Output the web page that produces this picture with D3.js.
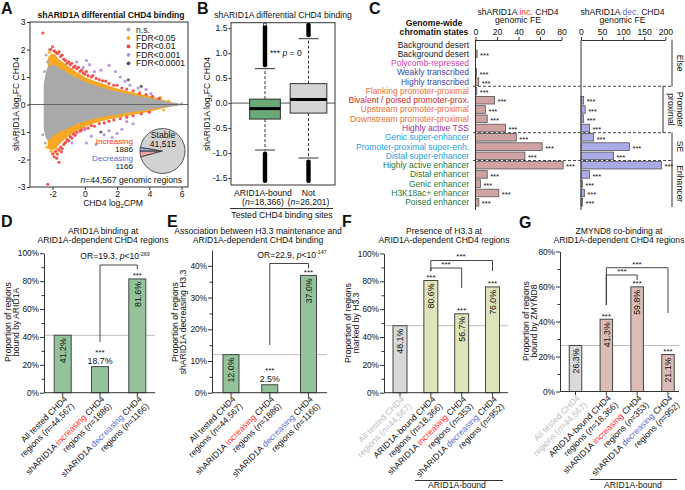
<!DOCTYPE html>
<html><head><meta charset="utf-8">
<script src="https://cdn.jsdelivr.net/npm/d3@7/dist/d3.min.js"></script>
<style>
html,body{margin:0;padding:0;background:#fff;overflow:hidden}
svg{display:block;font-family:"Liberation Sans",Arial,Helvetica,sans-serif;}
</style></head>
<body><svg id="fig" width="685" height="490"></svg>
<script>
// ================= DATA =================
// Panel A: MA plot (envelopes of the dense point clouds + individual outer points)
const maEnvX     = [-2.55,-2.3,-2.0,-1.5,-1.0,-0.5,0.0,0.5,1.0,2.0,3.0,4.0,4.5,5.0,5.5,5.9];
const nsUpper    = [0.7,1.35,1.45,1.3,1.12,0.97,0.83,0.72,0.63,0.47,0.35,0.24,0.18,0.12,0.07,0.03];
const nsLower    = [-0.9,-1.3,-1.15,-0.98,-0.85,-0.72,-0.62,-0.53,-0.46,-0.36,-0.27,-0.19,-0.14,-0.1,-0.06,-0.03];
const fdrEnvX    = [-2.3,-2.0,-1.5,-1.0,-0.5,0.0,0.5,1.0,2.0,3.0,4.0,4.5,5.0,5.4];
const fdr05Upper = [1.7,1.85,1.6,1.38,1.18,1.0,0.88,0.78,0.58,0.44,0.31,0.23,0.15,0.09];
const fdr05Lower = [-1.6,-1.65,-1.4,-1.15,-0.97,-0.82,-0.7,-0.61,-0.48,-0.37,-0.26,-0.19,-0.12,-0.07];
const nsPoints   = [[-2.4,1.8],[-2.3,1.55],[-2.5,1.2],[-2.2,2.0],[-2.6,-1.1],[-2.45,-1.4],[6.0,0.02],[5.7,0.0]];
const fdr05Points= [[-2.2,1.9],[-1.9,-1.75],[-2.1,-1.7],[-1.75,-1.6],[4.7,0.25],[4.9,-0.2],[-2.35,-1.55],[5.2,0.12]];
const fdr01Points= [[-2.6,2.6],[-2.1,2.0],[-2.0,2.1],[-1.9,1.95],[-1.8,1.9],[-1.7,1.85],[-1.6,1.92],[-1.5,1.75],[-1.4,1.8],
  [-1.3,1.65],[-1.2,1.6],[-1.1,1.5],[-1.0,1.55],[-0.9,1.45],[-0.8,1.5],[-0.7,1.35],[-0.6,1.4],[-0.5,1.3],[-0.4,1.35],
  [-0.3,1.2],[-0.2,1.25],[-0.1,1.15],[0.0,1.1],[0.1,1.2],[0.2,1.05],[0.4,1.0],[0.5,1.05],[0.7,0.95],[0.9,0.9],[1.1,0.86],
  [1.3,0.85],[1.5,0.76],[1.8,0.7],[2.0,0.7],[2.3,0.6],[2.6,0.56],[3.0,0.5],[3.4,0.42],[3.8,0.36],[4.2,0.3],[4.6,0.22],
  [-2.3,-2.9],[-1.6,-2.1],[-2.0,-1.8],[-1.9,-1.9],[-1.8,-1.7],[-1.7,-1.8],[-1.6,-1.65],[-1.5,-1.55],[-1.4,-1.6],
  [-1.3,-1.45],[-1.2,-1.38],[-1.1,-1.28],[-1.0,-1.32],[-0.9,-1.17],[-0.8,-1.22],[-0.7,-1.07],[-0.6,-1.12],[-0.5,-1.02],
  [-0.3,-0.97],[-0.2,-0.92],[0.0,-0.88],[0.2,-0.86],[0.4,-0.77],[0.6,-0.79],[0.9,-0.69],[1.2,-0.67],[1.5,-0.61],
  [1.8,-0.56],[2.2,-0.51],[2.6,-0.46],[3.0,-0.41],[3.5,-0.34],[4.0,-0.28],[-1.75,-1.95],[-1.45,-1.72]];
const fdr001Points=[[0.1,1.6],[-0.1,1.35],[0.6,1.2],[1.0,1.25],[1.5,1.42],[1.9,1.2],[2.5,0.85],[2.8,0.7],[3.3,0.6],
  [3.8,0.55],[4.1,0.4],[0.3,1.45],[-0.5,1.55],[2.2,1.0],[0.0,-0.92],[1.5,-0.95],[1.7,-1.2],[2.3,-0.9],[2.6,-0.62],
  [-0.8,-1.4],[0.1,-1.4],[0.7,-1.45],[1.2,-1.1],[3.0,-0.7],[2.0,-1.05],[0.4,-1.15]];
const fdr0001Points=[[2.7,0.9],[3.5,0.66],[1.0,-1.0]];
const legendLabels = ["n.s.","FDR<0.05","FDR<0.01","FDR<0.001","FDR<0.0001"];
const pieLabels = ["Stable","Increasing","Decreasing"];
const pieValues = [41515,1886,1166];
const maTotalN  = "44,567";

// Panel B: boxplots
const boxGroups  = ["ARID1A-bound","Not"];
const boxN       = [18366,26201];
const boxNLabel  = ["18,366","26,201"];
const boxQ1      = [-0.32,-0.2];
const boxMedian  = [-0.11,0.07];
const boxQ3      = [0.08,0.39];
const whiskerLo  = [-0.94,-1.1];
const whiskerHi  = [0.69,1.29];
const outlierMin = [-1.6,-1.6];
const outlierMax = [1.57,1.61];

// Panel C: chromatin states
const chromStates = ["Background desert","Background desert","Polycomb-repressed","Weakly transcribed","Highly transcribed",
  "Flanking promoter-proximal","Bivalent / poised promoter-prox.","Upstream promoter-proximal","Downstream promoter-proximal",
  "Highly active TSS","Genic super-enhancer","Promoter-proximal super-enh.","Distal super-enhancer","Highly active enhancer",
  "Distal enhancer","Genic enhancer","H3K18ac+ enhancer","Poised enhancer"];
const stateClass = ["desert","desert","polycomb","transcribed","transcribed","promoter","bivalent","promoter","promoter",
  "tss","se","se","se","enhancer","enhancer","enhancer","enhancer","enhancer"];
const incFE  = [0,1.5,0,1,3,1.2,17.7,9.3,10.9,27.9,38,62,46,81.5,10.9,4.6,21.7,3.1];
const incSig = [0,1,0,1,1,1,1,1,1,1,1,1,1,1,1,1,1,1];
const decFE  = [0,0,0,0,0,0,6.3,10,6.3,20,30,115,77,191,20,3,8,3.5];
const decSig = [0,0,0,0,0,0,1,1,1,1,1,1,1,1,1,1,1,1];
const groupNames = [["Else"],["Promoter","proximal"],["SE"],["Enhancer"]];
const groupFirst = [0,5,10,13];
const groupLast  = [4,9,12,17];
const incTicks = [0,20,40,60,80];
const decTicks = [0,50,100,150,200];

// Panels D-G
const dLabels = [["All tested CHD4","regions ({i:n}=44,567)"],["shARID1A {r:increasing} CHD4","regions ({i:n}=1886)"],["shARID1A {b:decreasing} CHD4","regions ({i:n}=1166)"]];
const dValues = [41.2,18.7,81.6];
const dSig    = [0,1,1];
const eLabels = dLabels;
const eValues = [12.0,2.5,37.0];
const eSig    = [0,1,1];
const fLabels = [["All tested CHD4","regions ({i:n}=44,567)"],["ARID1A-bound CHD4","regions ({i:n}=18,366)"],["shARID1A {r:increasing} CHD4","regions ({i:n}=353)"],["shARID1A {b:decreasing} CHD4","regions ({i:n}=952)"]];
const fValues = [48.1,80.6,56.7,76.0];
const fSig    = [0,1,1,1];
const gLabels = fLabels;
const gValues = [26.3,41.3,59.8,21.1];
const gSig    = [0,1,1,1];
const dTest = "OR=19.3, {i:p}<10{sup:-269}";
const eTest = "OR=22.9, {i:p}<10{sup:-147}";

// ================= STYLE =================
const INK = "#111", RED = "#ff2b2b", BLUE = "#5b6bd6";
const C_NS="#a9a9a9", C_ORANGE="#f9a825", C_RED="#f2413f", C_PURPLE="#b48de0", C_DARK="#555";
const legendColors = [C_NS,C_ORANGE,C_RED,C_PURPLE,C_DARK];
const classColor = {desert:"#222",polycomb:"#e040a8",transcribed:"#3848b0",promoter:"#f26b3a",bivalent:"#d02828",
  tss:"#9b2d9b",se:"#1aa3e8",enhancer:"#1f7a3a"};
const FS = 8.6;

const svg = d3.select("#fig");

function rich(parent, x, y, str, attrs) {
  const t = parent.append("text").attr("x", x).attr("y", y);
  Object.entries(attrs||{}).forEach(([k,v]) => t.attr(k, v));
  const re = /\{(\w+):([^}]*)\}/g;
  let last = 0, m, shift = 0;
  const add = (txt, type) => {
    if (!txt) return;
    const s = t.append("tspan").text(txt);
    let want = 0;
    if (type === "r") s.attr("fill", RED);
    if (type === "b") s.attr("fill", BLUE);
    if (type === "i") s.attr("font-style", "italic");
    if (type === "sup") { s.attr("font-size", "0.62em"); want = -3.5; }
    if (type === "sub") { s.attr("font-size", "0.7em"); want = 2; }
    if (want !== shift) { s.attr("dy", want - shift); shift = want; }
  };
  while ((m = re.exec(str))) { add(str.slice(last, m.index), null); add(m[2], m[1]); last = re.lastIndex; }
  add(str.slice(last), null);
  return t;
}
function styleAxis(g, fs) {
  g.attr("font-family", null).attr("font-size", fs || FS);
  g.selectAll("path,line").attr("stroke", "#333");
  g.selectAll("text").attr("fill", INK);
}
function letter(t, x, y) {
  svg.append("text").attr("x", x).attr("y", y).attr("font-size", 16).attr("font-weight", "bold").attr("fill", INK).text(t);
}

// ================= PANEL A =================
(function(){
  const g = svg.append("g");
  const x = d3.scaleLinear().domain([-3.4, 6.4]).range([30, 188]);
  const y = d3.scaleLinear().domain([-3, 3]).range([187, 22]);
  g.append("clipPath").attr("id","clipA").append("rect").attr("x",30).attr("y",22).attr("width",158).attr("height",165);
  const p = g.append("g").attr("clip-path","url(#clipA)");
  const area = d3.area().x(d=>x(d[0])).y0(d=>y(d[2])).y1(d=>y(d[1])).curve(d3.curveMonotoneX);
  p.append("path").attr("d", area(d3.zip(fdrEnvX, fdr05Upper, fdr05Lower))).attr("fill", C_ORANGE);
  p.append("path").attr("d", area(d3.zip(maEnvX, nsUpper, nsLower))).attr("fill", C_NS);
  const dots = (data, col) => p.append("g").selectAll("circle").data(data).join("circle")
      .attr("cx", d=>x(d[0])).attr("cy", d=>y(d[1])).attr("r", 1.6).attr("fill", col).attr("opacity", 0.9);
  dots(nsPoints, C_NS); dots(fdr05Points, C_ORANGE); dots(fdr01Points, C_RED); dots(fdr001Points, C_PURPLE); dots(fdr0001Points, C_DARK);
  p.append("line").attr("x1",30).attr("x2",188).attr("y1",y(0)).attr("y2",y(0)).attr("stroke","#666").attr("stroke-width",1.2);
  g.append("rect").attr("x",30).attr("y",22).attr("width",158).attr("height",165).attr("fill","none").attr("stroke","#333");
  const ya = g.append("g").attr("transform","translate(30,0)")
    .call(d3.axisLeft(y).tickValues([-3,-2,-1,0,1,2,3]).tickFormat(d=>String(d)).tickSize(3).tickPadding(1.5).tickSizeOuter(0));
  styleAxis(ya); ya.select(".domain").remove();
  const xa = g.append("g").attr("transform","translate(0,187)")
    .call(d3.axisBottom(x).tickValues([-2,0,2,4,6]).tickFormat(d=>String(d)).tickSize(3).tickPadding(1).tickSizeOuter(0));
  styleAxis(xa); xa.select(".domain").remove();
  g.append("text").attr("x",111).attr("y",17.5).attr("text-anchor","middle").attr("font-size",FS).attr("font-weight","bold").attr("fill",INK)
    .text("shARID1A differential CHD4 binding");
  rich(g, 113, 206.3, "CHD4 log{sub:2}CPM", {"text-anchor":"middle","font-size":FS,fill:INK});
  const yt = g.append("g").attr("transform","translate(18.5,104) rotate(-90)");
  rich(yt, 0, 0, "shARID1A log{sub:2}FC CHD4", {"text-anchor":"middle","font-size":FS,fill:INK});
  legendLabels.forEach((l,i) => {
    const cy = 29.5 + i*8.45;
    g.append("circle").attr("cx",128.5).attr("cy",cy).attr("r",1.9).attr("fill",legendColors[i]);
    g.append("text").attr("x",136).attr("y",cy+3).attr("font-size",FS).attr("fill",INK).text(l);
  });
  const total = d3.sum(pieValues);
  const start = 1.5*Math.PI - 2*Math.PI*pieValues[1]/total;
  const pie = d3.pie().sort(null).value(d=>d).startAngle(start).endAngle(start + 2*Math.PI);
  const arcs = pie([pieValues[1], pieValues[2], pieValues[0]]);
  const arc = d3.arc().innerRadius(0).outerRadius(22.5);
  const pieCols = ["#f2a0a6","#8ea6dc","#d2d2d2"];
  g.append("g").attr("transform","translate(162.5,151)").selectAll("path").data(arcs).join("path")
    .attr("d", arc).attr("fill",(d,i)=>pieCols[i]).attr("stroke","#333").attr("stroke-width",0.8);
  g.append("text").attr("x",163).attr("y",138).attr("text-anchor","middle").attr("font-size",FS).attr("fill",INK).text(pieLabels[0]);
  g.append("text").attr("x",163).attr("y",146.5).attr("text-anchor","middle").attr("font-size",FS).attr("fill",INK).text(d3.format(",")(pieValues[0]));
  const pl = 8.1;
  g.append("text").attr("x",133).attr("y",143.6).attr("text-anchor","end").attr("font-size",pl).attr("fill",RED).text(pieLabels[1]);
  g.append("text").attr("x",133).attr("y",152.2).attr("text-anchor","end").attr("font-size",pl).attr("fill",INK).text(pieValues[1]);
  g.append("text").attr("x",133).attr("y",160.8).attr("text-anchor","end").attr("font-size",pl).attr("fill",BLUE).text(pieLabels[2]);
  g.append("text").attr("x",133).attr("y",169.4).attr("text-anchor","end").attr("font-size",pl).attr("fill",INK).text(pieValues[2]);
  rich(g, 182, 183, "{i:n}="+maTotalN+" genomic regions", {"text-anchor":"end","font-size":FS,fill:INK});
})();
letter("A", 1, 13.5);

// ================= PANEL B =================
(function(){
  const g = svg.append("g");
  const x = d3.scalePoint().domain(boxGroups).range([265, 308.5]);
  const y = d3.scaleLinear().domain([-1.64, 1.61]).range([185, 22.7]);
  const w = d3.scaleSqrt().domain([0, 26201]).range([0, 36.7]);
  g.append("line").attr("x1",231).attr("x2",335).attr("y1",y(0)).attr("y2",y(0)).attr("stroke","#555").attr("stroke-width",1);
  const fills = ["#6aa878","#d4d4d4"];
  boxGroups.forEach((k,i) => {
    const cx = x(k), bw = w(boxN[i]);
    g.append("line").attr("x1",cx).attr("x2",cx).attr("y1",y(boxQ3[i])).attr("y2",y(whiskerHi[i])).attr("stroke","#333").attr("stroke-dasharray","3,2");
    g.append("line").attr("x1",cx).attr("x2",cx).attr("y1",y(boxQ1[i])).attr("y2",y(whiskerLo[i])).attr("stroke","#333").attr("stroke-dasharray","3,2");
    [whiskerHi[i], whiskerLo[i]].forEach(v => g.append("line").attr("x1",cx-10).attr("x2",cx+10).attr("y1",y(v)).attr("y2",y(v)).attr("stroke","#333"));
    g.append("rect").attr("x",cx-2.2).attr("width",4.4).attr("y",y(outlierMax[i])).attr("height",y(whiskerHi[i])-y(outlierMax[i])-1.5).attr("rx",2).attr("fill","#000");
    g.append("rect").attr("x",cx-2.2).attr("width",4.4).attr("y",y(whiskerLo[i])+1.5).attr("height",y(outlierMin[i])-y(whiskerLo[i])-1.5).attr("rx",2).attr("fill","#000");
    g.append("rect").attr("x",cx-bw/2).attr("width",bw).attr("y",y(boxQ3[i])).attr("height",y(boxQ1[i])-y(boxQ3[i]))
      .attr("fill",fills[i]).attr("stroke","#333").attr("stroke-width",1);
    g.append("line").attr("x1",cx-bw/2).attr("x2",cx+bw/2).attr("y1",y(boxMedian[i])).attr("y2",y(boxMedian[i])).attr("stroke","#000").attr("stroke-width",3);
    g.append("text").attr("x",cx-(i?0:2)).attr("y",196).attr("text-anchor","middle").attr("font-size",FS).attr("fill",INK).text(k);
    rich(g, cx-(i?0:2), 205, "({i:n}="+boxNLabel[i]+")", {"text-anchor":"middle","font-size":FS,fill:INK});
  });
  g.append("circle").attr("cx",x(boxGroups[0])).attr("cy",y(1.575)).attr("r",1.6).attr("fill","#fff").attr("stroke","#000").attr("stroke-width",0.8);
  g.append("rect").attr("x",231).attr("y",22.7).attr("width",104).attr("height",162.3).attr("fill","none").attr("stroke","#333");
  const ya = g.append("g").attr("transform","translate(231,0)")
    .call(d3.axisLeft(y).tickValues([-1.5,-1,-0.5,0,0.5,1,1.5]).tickFormat(d=>d.toFixed(1)).tickSize(2.5).tickPadding(1).tickSizeOuter(0));
  styleAxis(ya); ya.select(".domain").remove();
  g.append("line").attr("x1",230).attr("x2",333).attr("y1",208.5).attr("y2",208.5).attr("stroke","#333");
  g.append("text").attr("x",282).attr("y",217.5).attr("text-anchor","middle").attr("font-size",FS).attr("fill",INK).text("Tested CHD4 binding sites");
  rich(g, 270, 56, "*** {i:p} = 0", {"font-size":FS,fill:INK});
  g.append("text").attr("x",283).attr("y",17.5).attr("text-anchor","middle").attr("font-size",FS).attr("fill",INK).text("shARID1A differential CHD4 binding");
  const yt = g.append("g").attr("transform","translate(210,104) rotate(-90)");
  rich(yt, 0, 0, "shARID1A log{sub:2}FC CHD4", {"text-anchor":"middle","font-size":FS,fill:INK});
})();
letter("B", 197, 13.5);

// ================= PANEL C =================
(function(){
  const g = svg.append("g");
  const y = d3.scaleBand().domain(d3.range(chromStates.length)).range([39.9, 206.9]).paddingInner(0.18).paddingOuter(0.09);
  const xi = d3.scaleLinear().domain([0,80]).range([475.5, 561.5]);
  const xd = d3.scaleLinear().domain([0,200]).range([581, 665.3]);
  const cy = i => y(i) + y.bandwidth()/2;
  chromStates.forEach((s,i) => g.append("text").attr("x",469).attr("y",cy(i)+3).attr("text-anchor","end")
     .attr("font-size",8.5).attr("fill",classColor[stateClass[i]]).text(s));
  const drawBars = (x, vals, sig, fill) => {
    vals.forEach((v,i) => {
      if (v > 0) g.append("rect").attr("x",x(0)).attr("y",y(i)).attr("width",x(v)-x(0)).attr("height",y.bandwidth())
        .attr("fill",fill).attr("stroke","#555").attr("stroke-width",0.8);
      if (sig[i]) g.append("text").attr("x",x(v)+3).attr("y",cy(i)+4.2).attr("font-size",7.5).attr("fill",INK).text("***");
    });
    g.append("line").attr("x1",x(0)).attr("x2",x(0)).attr("y1",40).attr("y2",210).attr("stroke","#333");
  };
  drawBars(xi, incFE, incSig, "#cfa3a3");
  drawBars(xd, decFE, decSig, "#aaaae6");
  const a1 = g.append("g").attr("transform","translate(0,40)").call(d3.axisTop(xi).tickValues(incTicks).tickSize(3).tickPadding(2).tickSizeOuter(0));
  styleAxis(a1);
  const a2 = g.append("g").attr("transform","translate(0,40)").call(d3.axisTop(xd).tickValues(decTicks).tickSize(3).tickPadding(2).tickSizeOuter(0));
  styleAxis(a2);
  groupFirst.slice(1).forEach(f => {
    const yy = (cy(f-1) + cy(f)) / 2;
    g.append("line").attr("x1",473).attr("x2",672).attr("y1",yy).attr("y2",yy).attr("stroke","#333").attr("stroke-dasharray","3,2").attr("stroke-width",0.9);
  });
  groupNames.forEach((lines,k) => {
    const y1 = y(groupFirst[k]) - 1, y2 = y(groupLast[k]) + y.bandwidth() + 1;
    const lx = lines.length > 1 ? 663 : 672;
    g.append("line").attr("x1",lx).attr("x2",lx).attr("y1",y1).attr("y2",y2).attr("stroke","#333");
    lines.forEach((ln,j) => {
      const bx = lines.length > 1 ? (j === 0 ? 677 : 668) : 677;
      g.append("text").attr("transform",`translate(${bx},${(y1+y2)/2}) rotate(90)`).attr("text-anchor","middle")
        .attr("font-size",FS).attr("fill",INK).text(ln);
    });
  });
  g.append("text").attr("x",434).attr("y",26).attr("text-anchor","middle").attr("font-size",FS).attr("font-weight","bold").attr("fill",INK).text("Genome-wide");
  g.append("text").attr("x",434).attr("y",34.5).attr("text-anchor","middle").attr("font-size",FS).attr("font-weight","bold").attr("fill",INK).text("chromatin states");
  rich(g, 518, 14.5, "shARID1A {r:inc.} CHD4", {"text-anchor":"middle","font-size":FS,fill:INK});
  g.append("text").attr("x",518).attr("y",23).attr("text-anchor","middle").attr("font-size",FS).attr("fill",INK).text("genomic FE");
  rich(g, 622.5, 14.5, "shARID1A {b:dec.} CHD4", {"text-anchor":"middle","font-size":FS,fill:INK});
  g.append("text").attr("x",622.5).attr("y",23).attr("text-anchor","middle").attr("font-size",FS).attr("fill",INK).text("genomic FE");
})();
letter("C", 369, 13.5);

// ================= PANELS D-G =================
function barPanel(o) {
  const g = svg.append("g");
  const y = d3.scaleLinear().domain([0, o.yMax]).range([o.y0, o.yTop]);
  const x = d3.scalePoint().domain(d3.range(o.values.length)).range([o.c0, o.c1]);
  g.append("line").attr("x1",o.axisX).attr("x2",o.xEnd).attr("y1",y(o.values[0])).attr("y2",y(o.values[0])).attr("stroke","#bdbdbd").attr("stroke-width",1);
  g.selectAll("rect.bar").data(o.values).join("rect").attr("class","bar")
    .attr("x",(d,i)=>x(i)-o.bw/2).attr("width",o.bw).attr("y",d=>y(d)).attr("height",d=>o.y0-y(d))
    .attr("fill",(d,i)=>o.fills[i]).attr("stroke","#444").attr("stroke-width",1);
  g.append("line").attr("x1",o.axisX).attr("x2",o.xEnd).attr("y1",o.y0).attr("y2",o.y0).attr("stroke","#333");
  const ya = g.append("g").attr("transform",`translate(${o.axisX},0)`)
    .call(d3.axisLeft(y).tickValues(o.major).tickFormat(d=>d+"%").tickSize(4).tickPadding(1).tickSizeOuter(0));
  styleAxis(ya, 8.3);
  const ym = g.append("g").attr("transform",`translate(${o.axisX},0)`)
    .call(d3.axisLeft(y).tickValues(o.minor).tickFormat("").tickSize(2.5).tickSizeOuter(0));
  styleAxis(ym); ym.select(".domain").remove();
  o.values.forEach((v,i) => g.append("line").attr("x1",x(i)).attr("x2",x(i)).attr("y1",o.y0).attr("y2",o.y0+3.5).attr("stroke","#333"));
  const fmt = d3.format(".1f");
  o.values.forEach((v,i) => {
    const top = y(v), h = o.y0 - top;
    if (h > 30) {
      g.append("text").attr("transform",`translate(${x(i)+3.2},${top+3}) rotate(-90)`).attr("text-anchor","end")
        .attr("font-size",8.8).attr("fill",INK).text(fmt(v)+"%");
      if (o.sig[i]) g.append("text").attr("x",x(i)).attr("y",top-0.5).attr("text-anchor","middle").attr("font-size",8).attr("fill",INK).text("***");
    } else {
      g.append("text").attr("x",x(i)).attr("y",top-2.5).attr("text-anchor","middle").attr("font-size",8.8).attr("fill",INK).text(fmt(v)+"%");
      if (o.sig[i]) g.append("text").attr("x",x(i)).attr("y",top-11.5).attr("text-anchor","middle").attr("font-size",8).attr("fill",INK).text("***");
    }
  });
  o.labels.forEach((lines,i) => {
    const lg = g.append("g").attr("transform",`translate(${x(i)+5},${o.y0+7}) rotate(-45)`);
    lines.forEach((ln,j) => rich(lg, 0, j*10, ln, {"text-anchor":"end","font-size":FS,fill:(o.labelFill||[])[i]||INK}));
  });
  o.title.forEach((t,j) => g.append("text").attr("x",o.titleX).attr("y",233.5+j*9.8).attr("text-anchor","middle").attr("font-size",FS).attr("fill",INK).text(t));
  o.ytitle.forEach((t,j) => g.append("text").attr("transform",`translate(${o.ytitleX[j]},${o.ytitleY}) rotate(-90)`).attr("text-anchor","middle")
     .attr("font-size",FS).attr("fill",INK).text(t));
  return {g, x, y};
}
function bracket(g, x1, x2, yTop, yL, yR) {
  g.append("path").attr("d",`M${x1},${yL}V${yTop}H${x2}V${yR}`).attr("fill","none").attr("stroke","#333").attr("stroke-width",0.9);
}

// D
(function(){
  const r = barPanel({values:dValues, sig:dSig, labels:dLabels, yMax:100, y0:392.7, yTop:253.3, c0:62.7, c1:137.3, bw:17,
    axisX:44, xEnd:155, major:[0,20,40,60,80,100], minor:[10,30,50,70,90], fills:["#94c39b","#94c39b","#94c39b"],
    title:["ARID1A binding at","ARID1A-dependent CHD4 regions"], titleX:103,
    ytitle:["Proportion of regions","bound by ARID1A"], ytitleX:[10.5,19], ytitleY:322});
  bracket(r.g, r.x(1), r.x(2), 265, 342, 269);
  rich(r.g, 115, 259, dTest, {"text-anchor":"middle","font-size":FS,fill:INK});
})();
letter("D", 1, 226.5);

// E
(function(){
  const r = barPanel({values:eValues, sig:eSig, labels:eLabels, yMax:45, y0:392.7, yTop:250, c0:231, c1:308.5, bw:16,
    axisX:212, xEnd:327, major:[0,10,20,30,40], minor:[5,15,25,35], fills:["#94c39b","#94c39b","#94c39b"],
    title:["Association between H3.3 maintenance and","ARID1A-dependent CHD4 binding"], titleX:258,
    ytitle:["Proportion of regions","shARID1A decreasing H3.3"], ytitleX:[177.5,186], ytitleY:322});
  bracket(r.g, r.x(1), r.x(2), 263.5, 345, 268.5);
  rich(r.g, 292, 257.5, eTest, {"text-anchor":"middle","font-size":FS,fill:INK});
})();
letter("E", 167, 226.5);

// F
(function(){
  const r = barPanel({values:fValues, sig:fSig, labels:fLabels, yMax:100, y0:392.7, yTop:253.5, c0:400, c1:492.5, bw:14,
    axisX:384, xEnd:508, major:[0,20,40,60,80,100], minor:[10,30,50,70,90],
    fills:["#d9d9d9","#dfe3b9","#dfe3b9","#dfe3b9"], labelFill:["#bdbdbd"],
    title:["Presence of H3.3 at","ARID1A-dependent CHD4 regions"], titleX:444,
    ytitle:["Proportion of regions","marked by H3.3"], ytitleX:[351,359], ytitleY:323});
  bracket(r.g, r.x(1), r.x(3), 260.5, 271, 271);
  r.g.append("text").attr("x",461).attr("y",259).attr("text-anchor","middle").attr("font-size",8).attr("fill",INK).text("***");
  bracket(r.g, r.x(1), r.x(2), 268, 271, 288);
  r.g.append("text").attr("x",446).attr("y",267.3).attr("text-anchor","middle").attr("font-size",8).attr("fill",INK).text("***");
  r.g.append("line").attr("x1",415).attr("x2",503).attr("y1",480.5).attr("y2",480.5).attr("stroke","#333");
  r.g.append("text").attr("x",457).attr("y",488).attr("text-anchor","middle").attr("font-size",FS).attr("fill",INK).text("ARID1A-bound");
})();
letter("F", 342, 226.5);

// G
(function(){
  const r = barPanel({values:gValues, sig:gSig, labels:gLabels, yMax:80, y0:391.5, yTop:251.5, c0:575.5, c1:668, bw:12.5,
    axisX:560, xEnd:679, major:[0,20,40,60,80], minor:[10,30,50,70],
    fills:["#d9d9d9","#dcbcb4","#dcbcb4","#dcbcb4"], labelFill:["#bdbdbd"],
    title:["ZMYND8 co-binding at","ARID1A-dependent CHD4 regions"], titleX:619,
    ytitle:["Proportion of regions","bound by ZMYND8"], ytitleX:[528.5,536.5], ytitleY:321});
  bracket(r.g, r.x(1), r.x(3), 267.7, 305, 313);
  r.g.append("text").attr("x",637).attr("y",266.5).attr("text-anchor","middle").attr("font-size",8).attr("fill",INK).text("***");
  bracket(r.g, r.x(1), r.x(2), 275, 305, 280);
  r.g.append("text").attr("x",622).attr("y",274).attr("text-anchor","middle").attr("font-size",8).attr("fill",INK).text("***");
  r.g.append("line").attr("x1",590).attr("x2",677).attr("y1",479.5).attr("y2",479.5).attr("stroke","#333");
  r.g.append("text").attr("x",633).attr("y",487.5).attr("text-anchor","middle").attr("font-size",FS).attr("fill",INK).text("ARID1A-bound");
})();
letter("G", 519, 228);
</script></body></html>
